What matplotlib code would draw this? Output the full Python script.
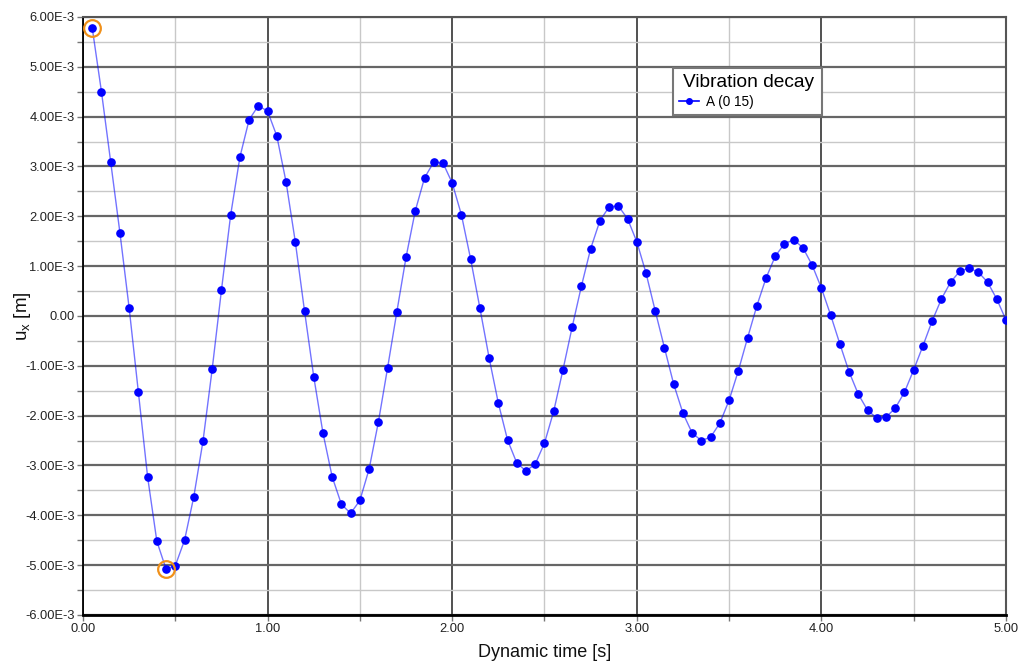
import numpy as np
import matplotlib.pyplot as plt
from matplotlib.ticker import MultipleLocator, FuncFormatter

plt.rcParams['font.family'] = ['Liberation Sans', 'DejaVu Sans']

# time steps (s) and displacement values (in 1E-3 m)
time = np.round(np.arange(1, 101) * 0.05, 2)
ux_mm = [5.78, 4.50, 3.09, 1.67, 0.16, -1.53, -3.23, -4.52, -5.08, -5.01,
         -4.50, -3.63, -2.51, -1.06, 0.52, 2.03, 3.19, 3.94, 4.22, 4.11,
         3.61, 2.69, 1.49, 0.10, -1.22, -2.35, -3.23, -3.78, -3.96, -3.70,
         -3.07, -2.13, -1.04, 0.08, 1.18, 2.11, 2.77, 3.09, 3.07, 2.67,
         2.03, 1.14, 0.16, -0.84, -1.75, -2.49, -2.95, -3.11, -2.97, -2.55,
         -1.91, -1.08, -0.22, 0.60, 1.35, 1.91, 2.19, 2.21, 1.95, 1.49,
         0.86, 0.10, -0.64, -1.37, -1.95, -2.35, -2.50, -2.43, -2.15, -1.69,
         -1.10, -0.44, 0.20, 0.76, 1.20, 1.45, 1.53, 1.37, 1.02, 0.56,
         0.02, -0.56, -1.12, -1.57, -1.89, -2.05, -2.03, -1.85, -1.53, -1.08,
         -0.60, -0.10, 0.34, 0.68, 0.90, 0.96, 0.88, 0.68, 0.34, -0.08]
ux = np.array(ux_mm) * 1e-3

# highlighted extreme points (indices into the series)
highlight = [0, 8]

fig = plt.figure(figsize=(10.21, 6.64), dpi=100)
ax = fig.add_axes([0.0813, 0.0738, 0.904, 0.9006])

ax.plot(time, ux, '-', color='#0000ff', lw=1.0, alpha=0.55, zorder=3)
ax.plot(time, ux, 'o', color='#0000ff', ms=5.2, zorder=4)
legend_handle, = ax.plot([], [], '-o', color='#0000ff', lw=1.2, ms=4,
                         label='A (0 15)')
ax.plot(time[highlight], ux[highlight], 'o', mfc='none', mec='#f0901a',
        ms=12, mew=1.6, zorder=5)

ax.set_xlim(0, 5)
ax.set_ylim(-6e-3, 6e-3)
ax.xaxis.set_major_locator(MultipleLocator(1.0))
ax.xaxis.set_minor_locator(MultipleLocator(0.5))
ax.yaxis.set_major_locator(MultipleLocator(1e-3))
ax.yaxis.set_minor_locator(MultipleLocator(0.5e-3))
ax.xaxis.set_major_formatter(FuncFormatter(lambda v, p: f'{v:.2f}'))
ax.yaxis.set_major_formatter(FuncFormatter(
    lambda v, p: '0.00' if abs(v) < 1e-9 else f'{v * 1e3:.2f}E-3'))

ax.grid(which='minor', color='#c8c8c8', lw=1.0, zorder=0)
ax.grid(which='major', axis='y', color='#666666', lw=1.6, zorder=1)
ax.grid(which='major', axis='x', color='#222222', lw=1.1, zorder=1)
ax.set_axisbelow(True)

ax.tick_params(which='both', direction='out', length=4, width=1,
               color='#777777', labelsize=9.3, labelcolor='#222222', pad=2)

for side in ['left', 'bottom']:
    ax.spines[side].set_color('black')
ax.spines['left'].set_linewidth(1.3)
ax.spines['bottom'].set_linewidth(2.0)
for side in ['top', 'right']:
    ax.spines[side].set_color('#555555')
    ax.spines[side].set_linewidth(1.5)

ax.set_xlabel('Dynamic time [s]', fontsize=13, color='#111111', labelpad=6)
ax.set_ylabel('u$_\\mathregular{x}$ [m]', fontsize=13.5, color='#111111',
              labelpad=-6)

leg = ax.legend(handles=[legend_handle], title='Vibration decay ',
                loc='upper left', bbox_to_anchor=(0.639, 0.915),
                fontsize=9.8, title_fontsize=13.8, frameon=True, fancybox=False,
                handlelength=1.5, handletextpad=0.5, borderpad=0.45,
                labelspacing=0.2, borderaxespad=0)
leg._legend_box.align = 'left'
leg._legend_box.sep = 3
leg.get_title().set_x(4)
leg.get_frame().set_edgecolor('#777777')
leg.get_frame().set_linewidth(1.5)
leg.get_frame().set_alpha(1)

fig.savefig('out.png', dpi=100)
